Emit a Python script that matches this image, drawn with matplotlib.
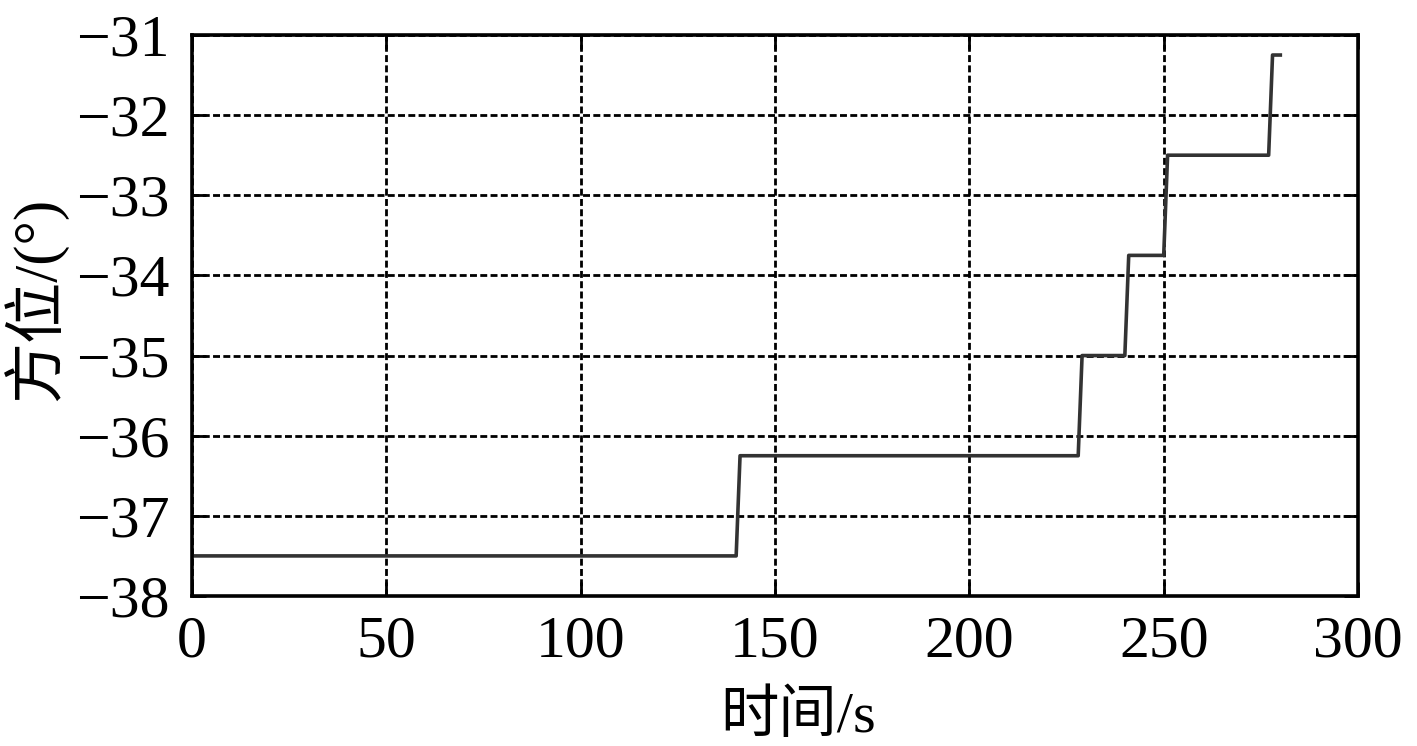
import matplotlib.pyplot as plt

# azimuth steps (s, deg)
time_s = [0, 140, 141, 228, 229, 240, 241, 250, 251, 277, 278, 280]
azimuth = [-37.5, -37.5, -36.25, -36.25, -35.0, -35.0, -33.75, -33.75,
           -32.5, -32.5, -31.25, -31.25]

x_ticks = [0, 50, 100, 150, 200, 250, 300]
y_ticks = [-38, -37, -36, -35, -34, -33, -32, -31]

plt.rcParams['font.family'] = ['Liberation Serif', 'Noto Sans CJK SC']
plt.rcParams['axes.unicode_minus'] = True

fig = plt.figure(figsize=(14.17, 7.46), dpi=100)
ax = fig.add_axes([0.1355, 0.2011, 0.8229, 0.752])

ax.plot(time_s, azimuth, color='#333333', linewidth=2.6, zorder=3)

ax.set_xlim(0, 300)
ax.set_ylim(-38, -31)
ax.set_xticks(x_ticks)
ax.set_yticks(y_ticks)
ax.set_yticklabels([f'\u2212{abs(v)}' for v in y_ticks])

ax.grid(True, color='black', linestyle=(0, (2.5, 1.2)), linewidth=2.0)
ax.set_axisbelow(False)
for s in ax.spines.values():
    s.set_linewidth(2.6)
    s.set_zorder(4)

ax.tick_params(axis='both', direction='in', length=10, width=2.0,
               labelsize=43, top=True, right=True)
ax.tick_params(axis='x', pad=14)
ax.tick_params(axis='y', pad=16)

ax.set_xlabel('时间/s', fontsize=42, fontweight='light')
ax.xaxis.set_label_coords(0.52, -0.168)
ax.set_ylabel('方位/(°)', fontsize=44, fontweight='light')
ax.yaxis.set_label_coords(-0.106, 0.53)

plt.savefig('out.png', dpi=100)
plt.close()
